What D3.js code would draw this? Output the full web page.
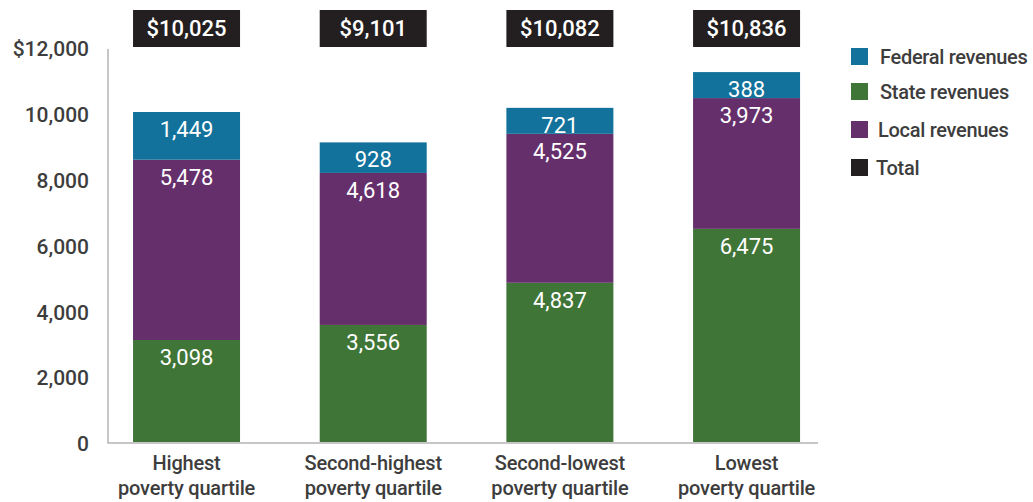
<!DOCTYPE html>
<html>
<head>
<meta charset="utf-8">
<script src="https://cdn.jsdelivr.net/npm/d3@7"></script>
<style>
  html, body { margin: 0; padding: 0; background: #fff; }
  svg { display: block; }
  text { font-family: Roboto, "Liberation Sans", sans-serif; }
</style>
</head>
<body>
<svg id="chart" width="1033" height="502"></svg>
<script>
const categories = [["Highest", "poverty quartile"], ["Second-highest", "poverty quartile"], ["Second-lowest", "poverty quartile"], ["Lowest", "poverty quartile"]];
const stateRevenues = [3098, 3556, 4837, 6475];
const localRevenues = [5478, 4618, 4525, 3973];
const federalRevenues = [1449, 928, 721, 388];
const totals = [10025, 9101, 10082, 10836];
const yTicks = [0, 2000, 4000, 6000, 8000, 10000, 12000];
const seriesNames = ["Federal revenues", "State revenues", "Local revenues", "Total"];
const seriesColors = ["#13729b", "#3f7537", "#652f6c", "#231f20"];

const svg = d3.select("#chart");
const textColor = "#3d3d3d";
const fmt = d3.format(",");

const x = d3.scaleBand()
  .domain(d3.range(categories.length))
  .range([93.2, 839.9])
  .paddingInner(0.4268)
  .paddingOuter(0.2134);
const y = d3.scaleLinear().domain([0, 12000]).range([442, 47]);

// stacked segments (bottom to top): state, local, federal
const stackOrder = [
  { vals: stateRevenues, color: seriesColors[1] },
  { vals: localRevenues, color: seriesColors[2] },
  { vals: federalRevenues, color: seriesColors[0] }
];
const minLabelH = 26;

categories.forEach((c, i) => {
  let base = 0;
  let yBottom = y(0);
  stackOrder.forEach(s => {
    const v = s.vals[i];
    const h = y(base) - y(base + v);
    const top = (s === stackOrder[2]) ? yBottom - Math.max(h, minLabelH) : y(base + v);
    svg.append("rect")
      .attr("x", x(i)).attr("y", top)
      .attr("width", x.bandwidth()).attr("height", yBottom - top)
      .attr("fill", s.color);
    svg.append("text")
      .attr("x", x(i) + x.bandwidth() / 2)
      .attr("y", top + 25)
      .attr("text-anchor", "middle")
      .attr("fill", "#fff")
      .attr("font-size", 22)
      .attr("font-weight", 400)
      .text(fmt(v));
    base += v;
    yBottom = top;
  });
  // total box
  svg.append("rect")
    .attr("x", x(i)).attr("y", 10)
    .attr("width", x.bandwidth()).attr("height", 37)
    .attr("fill", seriesColors[3]);
  svg.append("text")
    .attr("x", x(i) + x.bandwidth() / 2)
    .attr("y", 36)
    .attr("text-anchor", "middle")
    .attr("fill", "#fff")
    .attr("font-size", 22)
    .attr("font-weight", 500)
    .text("$" + fmt(totals[i]));
});

// axes lines
svg.append("line").attr("x1", 108).attr("x2", 108).attr("y1", y(12000) + 2).attr("y2", 443)
  .attr("stroke", "#b3b3b3").attr("stroke-width", 1.5);
svg.append("line").attr("x1", 107.25).attr("x2", 818).attr("y1", 443).attr("y2", 443)
  .attr("stroke", "#b3b3b3").attr("stroke-width", 1.5);

// y axis labels
const yAxis = d3.axisLeft(y).tickValues(yTicks).tickSize(0).tickPadding(0)
  .tickFormat(d => d === 12000 ? "$" + fmt(d) : fmt(d));
const yg = svg.append("g").attr("transform", "translate(89,2)").call(yAxis);
yg.select(".domain").remove();
yg.selectAll("text").attr("font-size", 21).attr("font-weight", 500)
  .attr("fill", textColor).style("font-family", "Roboto, sans-serif");

// x category labels
const xAxis = d3.axisBottom(x).tickSize(0).tickFormat(() => "");
const xg = svg.append("g").attr("transform", "translate(0,443)").call(xAxis);
xg.select(".domain").remove();
xg.selectAll(".tick").each(function(d) {
  const t = d3.select(this).append("text")
    .attr("text-anchor", "middle")
    .attr("fill", textColor)
    .attr("font-size", 20)
    .attr("font-weight", 500)
    .attr("letter-spacing", -0.2)
    .style("font-family", "Roboto, sans-serif");
  categories[d].forEach((line, k) => {
    t.append("tspan").attr("x", 0).attr("y", 27 + k * 25).text(line);
  });
});

// legend
const legendX = 851;
const legendCenters = [56.5, 91.5, 129.5, 167.5];
const legendTextX = [880, 880, 878, 876];
seriesNames.forEach((name, i) => {
  svg.append("rect")
    .attr("x", legendX).attr("y", legendCenters[i] - 8.5)
    .attr("width", 17).attr("height", 17)
    .attr("fill", seriesColors[i]);
  svg.append("text")
    .attr("x", legendTextX[i]).attr("y", legendCenters[i] + 7)
    .attr("fill", textColor)
    .attr("font-size", 20)
    .attr("font-weight", 500)
    .attr("letter-spacing", -0.3)
    .text(name);
});
</script>
</body>
</html>
